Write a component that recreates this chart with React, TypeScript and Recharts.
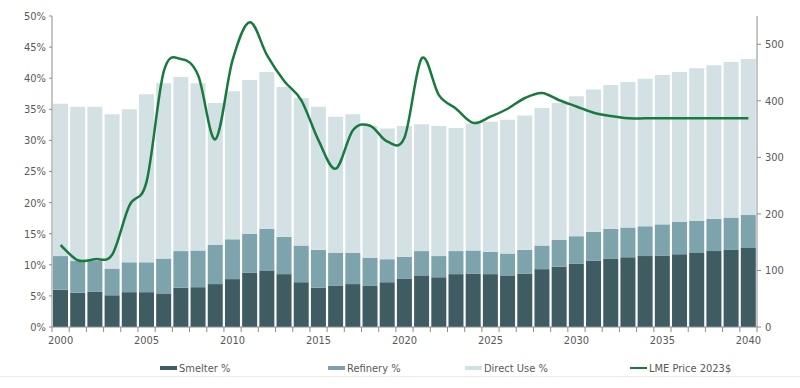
import { ComposedChart, Bar, Line, XAxis, YAxis, Legend } from 'recharts';

const years = [
  '2000', '2001', '2002', '2003', '2004', '2005', '2006', '2007', '2008', '2009',
  '2010', '2011', '2012', '2013', '2014', '2015', '2016', '2017', '2018', '2019',
  '2020', '2021', '2022', '2023', '2024', '2025', '2026', '2027', '2028', '2029',
  '2030', '2031', '2032', '2033', '2034', '2035', '2036', '2037', '2038', '2039', '2040',
];

// stacked segments, in % points
const smelter = [
  6.0, 5.5, 5.7, 5.1, 5.6, 5.6, 5.4, 6.3, 6.4, 6.9,
  7.7, 8.7, 9.1, 8.5, 7.2, 6.3, 6.6, 6.9, 6.6, 7.2,
  7.8, 8.3, 8.0, 8.5, 8.6, 8.5, 8.2, 8.6, 9.3, 9.7,
  10.2, 10.7, 11.0, 11.2, 11.4, 11.5, 11.7, 11.9, 12.2, 12.4, 12.7,
];
const refinery = [
  5.4, 5.1, 4.9, 4.3, 4.8, 4.8, 5.6, 5.9, 5.9, 6.3,
  6.4, 6.3, 6.7, 6.0, 5.9, 6.1, 5.3, 5.0, 4.5, 3.7,
  3.5, 3.9, 3.4, 3.7, 3.7, 3.6, 3.6, 3.8, 3.8, 4.3,
  4.4, 4.6, 4.8, 4.8, 4.8, 5.0, 5.2, 5.2, 5.2, 5.2, 5.3,
];
const directUse = [
  24.5, 24.8, 24.8, 24.8, 24.6, 27.0, 28.2, 28.0, 26.9, 22.8,
  23.8, 24.7, 25.2, 24.1, 23.7, 23.0, 21.9, 22.3, 21.2, 21.0,
  21.0, 20.4, 20.9, 19.8, 20.4, 20.9, 21.5, 21.6, 22.1, 22.0,
  22.5, 22.9, 23.1, 23.4, 23.7, 24.0, 24.1, 24.5, 24.7, 25.0, 25.1,
];
const lmePrice = [
  145, 118, 120, 128, 215, 257, 452, 474, 445, 332,
  472, 539, 481, 435, 401, 330, 280, 348, 356, 328,
  335, 475, 410, 386, 361, 372, 386, 405, 414, 401,
  390, 379, 373, 369, 369, 369, 369, 369, 369, 369, 369,
];

const pctTicks = [0, 5, 10, 15, 20, 25, 30, 35, 40, 45, 50];
const priceTicks = [0, 100, 200, 300, 400, 500];

const data = years.map((year, i) => ({
  year,
  smelter: smelter[i],
  refinery: refinery[i],
  directUse: directUse[i],
  price: lmePrice[i],
}));

const SMELTER = '#3e5c62';
const REFINERY = '#7da4ac';
const DIRECT = '#d4e1e4';
const PRICE = '#187a3e';
const AXIS = '#8c8c8c';
const TEXT = '#595959';
const FONT = "'Liberation Sans Narrow', 'DejaVu Sans Condensed', sans-serif";

const legendItems = [
  { label: 'Smelter %', color: SMELTER, line: false, left: 160 },
  { label: 'Refinery %', color: REFINERY, line: false, left: 328 },
  { label: 'Direct Use %', color: DIRECT, line: false, left: 465 },
  { label: 'LME Price 2023$', color: PRICE, line: true, left: 630 },
];

// Excel-like smoothed line (Catmull-Rom through every point)
function smoothCurve(context: any) {
  let pts: number[][] = [];
  return {
    areaStart() {},
    areaEnd() {},
    lineStart() {
      pts = [];
    },
    point(x: number, y: number) {
      pts.push([+x, +y]);
    },
    lineEnd() {
      if (!pts.length) return;
      context.moveTo(pts[0][0], pts[0][1]);
      for (let i = 0; i < pts.length - 1; i++) {
        const p0 = pts[i - 1] || pts[i];
        const p1 = pts[i];
        const p2 = pts[i + 1];
        const p3 = pts[i + 2] || p2;
        context.bezierCurveTo(
          p1[0] + (p2[0] - p0[0]) / 6,
          p1[1] + (p2[1] - p0[1]) / 6,
          p2[0] - (p3[0] - p1[0]) / 6,
          p2[1] - (p3[1] - p1[1]) / 6,
          p2[0],
          p2[1],
        );
      }
    },
  };
}

function YearTick(props: any) {
  const { x, y, payload, index } = props;
  const half = payload.offset || 8.6;
  const year = Number(payload.value);
  return (
    <g>
      <line x1={x - half} y1={y} x2={x - half} y2={y + 5} stroke={AXIS} />
      {index === years.length - 1 && (
        <line x1={x + half} y1={y} x2={x + half} y2={y + 5} stroke={AXIS} />
      )}
      {year % 5 === 0 && (
        <text x={x} y={y + 17} textAnchor="middle" fill={TEXT} fontSize={11} fontFamily={FONT}>
          {payload.value}
        </text>
      )}
    </g>
  );
}

function ChartLegend() {
  return (
    <div
      style={{
        position: 'relative',
        width: 800,
        height: 30,
        boxSizing: 'border-box',
        borderBottom: '1px solid #ebebeb',
        fontFamily: FONT,
        fontSize: 11,
        color: TEXT,
      }}
    >
      {legendItems.map((item) => (
        <div
          key={item.label}
          style={{
            position: 'absolute',
            left: item.left,
            top: 14,
            height: 14,
            display: 'flex',
            alignItems: 'center',
            whiteSpace: 'nowrap',
          }}
        >
          <span
            style={{
              display: 'inline-block',
              width: 17,
              height: item.line ? 2 : 4,
              background: item.color,
              marginRight: 2,
            }}
          />
          {item.label}
        </div>
      ))}
    </div>
  );
}

export default function App() {
  return (
    <div style={{ position: 'absolute', left: 0, top: 0, width: 800, height: 388, background: '#fff' }}>
      <ComposedChart
        width={800}
        height={388}
        data={data}
        margin={{ top: 16, right: 0, bottom: 11, left: 0 }}
        barCategoryGap={1}
      >
        <XAxis
          dataKey="year"
          interval={0}
          height={20}
          tickSize={0}
          tickMargin={0}
          stroke={AXIS}
          tick={<YearTick />}
        />
        <YAxis
          yAxisId="pct"
          width={52}
          domain={[0, 50]}
          ticks={pctTicks}
          tickFormatter={(v: number) => `${v}%`}
          tickSize={3}
          tickMargin={3}
          stroke={AXIS}
          tick={{ fill: TEXT, fontSize: 11, fontFamily: FONT }}
        />
        <YAxis
          yAxisId="price"
          orientation="right"
          width={43}
          domain={[0, 550]}
          ticks={priceTicks}
          tickSize={4}
          tickMargin={4}
          stroke={AXIS}
          tick={{ fill: TEXT, fontSize: 11, fontFamily: FONT }}
        />
        <Legend verticalAlign="bottom" wrapperStyle={{ left: 0, width: 800 }} content={<ChartLegend />} />
        <Bar yAxisId="pct" dataKey="smelter" name="Smelter %" stackId="a" fill={SMELTER} isAnimationActive={false} />
        <Bar yAxisId="pct" dataKey="refinery" name="Refinery %" stackId="a" fill={REFINERY} isAnimationActive={false} />
        <Bar yAxisId="pct" dataKey="directUse" name="Direct Use %" stackId="a" fill={DIRECT} isAnimationActive={false} />
        <Line
          yAxisId="price"
          type={smoothCurve as any}
          dataKey="price"
          name="LME Price 2023$"
          stroke={PRICE}
          strokeWidth={2.5}
          dot={false}
          isAnimationActive={false}
        />
      </ComposedChart>
    </div>
  );
}
